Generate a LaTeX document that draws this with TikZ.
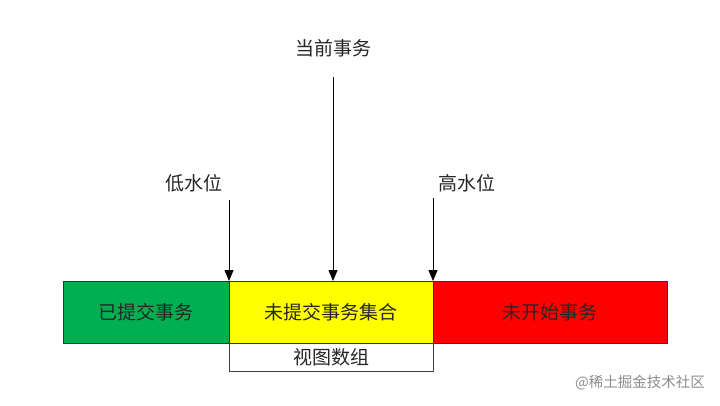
\documentclass[tikz,border=0pt]{standalone}
\usepackage{fontspec}
\setmainfont{Noto Sans CJK SC}
\usepackage{tikz}
\usetikzlibrary{arrows.meta, positioning}

\definecolor{donegreen}{RGB}{0,176,80}
\definecolor{openyellow}{RGB}{255,255,0}
\definecolor{waitred}{RGB}{255,0,0}

\begin{document}
\begin{tikzpicture}[x=1pt, y=-1pt,
  seg/.style={rectangle, draw=black!80, line width=0.9pt, outer sep=0pt, minimum height=62pt, inner sep=0pt, font=\fontsize{19}{22}\selectfont, text=black!85},
  arr/.style={-{Triangle[length=11pt, width=9pt]}, line width=1pt, black},
  lbl/.style={font=\fontsize{19}{22}\selectfont, text=black!85}]
\useasboundingbox (0,0) rectangle (720,405);
\node[seg, fill=donegreen, minimum width=166pt] (done) at (146,312) {已提交事务};
\node[seg, fill=openyellow, minimum width=204pt, right=0pt of done] (active) {未提交事务集合};
\node[seg, fill=waitred, minimum width=234pt, right=0pt of active] (todo) {未开始事务};
\node[lbl] (cur) at (333,48) {当前事务};
\node[lbl] (low) at (194,183) {低水位};
\node[lbl] (high) at (467,183) {高水位};
\coordinate (curtop) at (333,77);
\coordinate (lowtop) at (229,200);
\coordinate (hightop) at (433,198);
\draw[arr] (curtop) -- (curtop |- active.north);
\draw[arr] (lowtop) -- (active.north west);
\draw[arr] (hightop) -- (active.north east);
% view array bracket
\draw[line width=0.8pt, black!75] (active.south west) -- ++(0,28) -| (active.south east);
\node[lbl] (view) at (331,357) {视图数组};
\node[font=\fontsize{14.5}{17}\selectfont, text=black!45] (mark) at (640,383) {@稀土掘金技术社区};
\end{tikzpicture}
\end{document}
